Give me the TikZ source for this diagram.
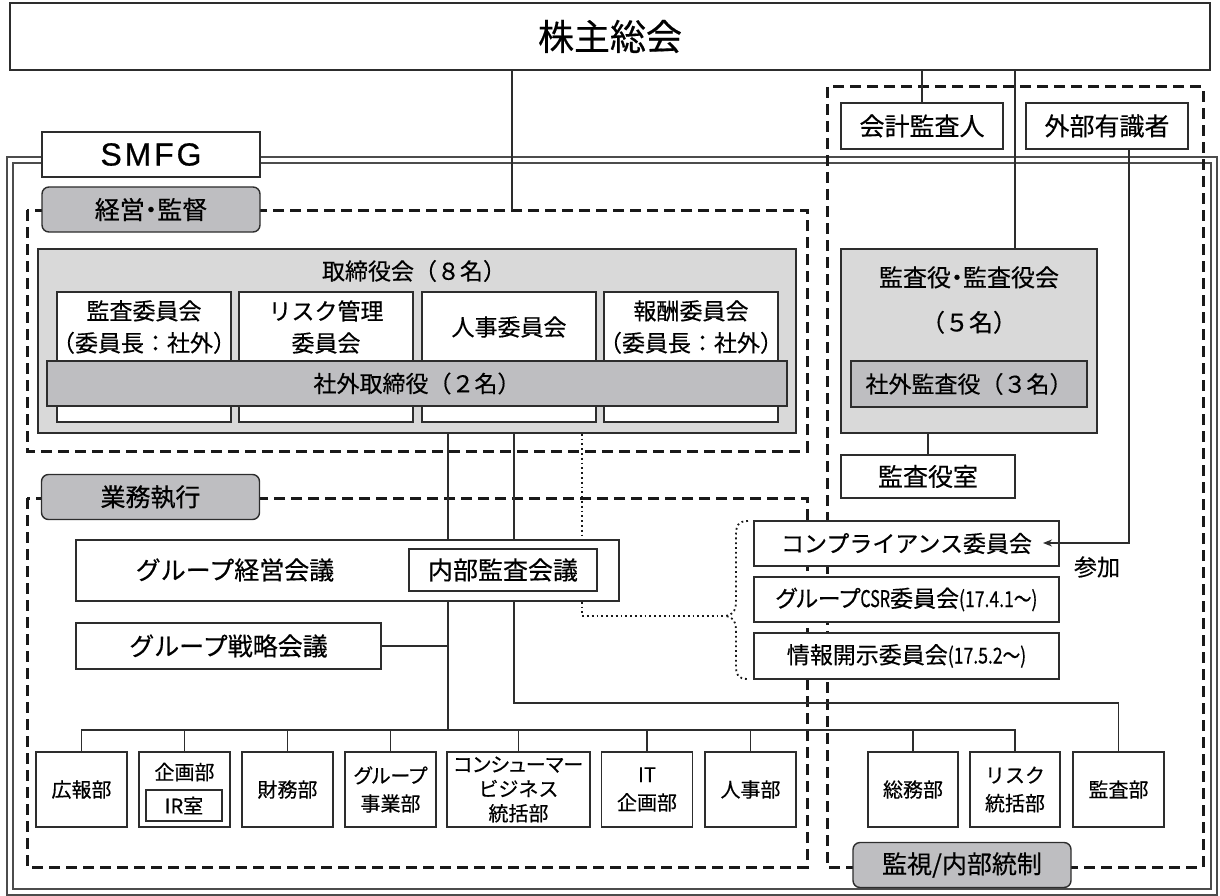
\documentclass[tikz,border=0pt]{standalone}
\usepackage{fontspec}
\setmainfont{Noto Sans CJK JP}[FakeBold=0.4]
\newfontfamily\propf{Noto Sans CJK JP}[RawFeature=+palt, FakeBold=0.4]
\newfontfamily\latinsf{Liberation Sans}[LetterSpace=9, FakeBold=0.6]
\usetikzlibrary{arrows.meta}
\newcommand\fsXL{\fontsize{36}{40}\selectfont}
\newcommand\fsL{\fontsize{25}{30}\selectfont}
\newcommand\fsM{\fontsize{23}{32}\selectfont}
\newcommand\fsS{\fontsize{20}{28}\selectfont}
\newcommand\fsT{\fontsize{20}{24.5}\selectfont}
\newcommand\cond[1]{\scalebox{0.7}[1]{#1}}
\newcommand\since[1]{\scalebox{0.8}[1]{\fontsize{22}{24}\selectfont #1}}
\definecolor{boardgray}{RGB}{217,217,217}
\definecolor{bargray}{RGB}{190,190,193}
\definecolor{linegray}{RGB}{45,45,45}
\tikzset{
  box/.style={draw=linegray, line width=1.4pt, fill=white, inner sep=0pt, align=center},
  graybox/.style={box, fill=boardgray},
  barbox/.style={box, fill=bargray},
  tagbox/.style={box, fill=bargray, rounded corners=7pt, minimum width=218pt, minimum height=45pt, font=\fsL},
  zone/.style={draw=black!90, line width=3pt, dash pattern=on 11pt off 6pt},
  link/.style={draw=linegray, line width=1.3pt},
  dots/.style={draw=black!90, line width=1.8pt, dash pattern=on 1.8pt off 3pt},
  dept/.style={box, minimum width=91pt, minimum height=75pt, font=\fsS},
}
\begin{document}
\begin{tikzpicture}[x=1pt,y=-1pt]
\useasboundingbox (0,0) rectangle (1220,896);
\draw[black!70, line width=1.4pt] (7,157) rectangle (1217,895);
\draw[black!70, line width=1.4pt] (13,163) rectangle (1211,889);
\draw[zone] (27,210) rectangle (807,451);
\draw[zone] (27,498) rectangle (807,867);
\draw[zone] (827,87) rectangle (1203,867);

\coordinate (kTop) at (512,210);
\coordinate (kyx) at (1015,0);
\coordinate (busA) at (448,730);
\coordinate (busB) at (514,703);
\coordinate (dx) at (582,0);
\coordinate (cusp) at (725,616);
\coordinate (gx) at (1129,0);
\coordinate (tip) at (1043,543);

\node[box, minimum width=1200pt, minimum height=67pt, font=\fsXL] (kabu) at (610,36.5) {株主総会};
\node[graybox, minimum width=758pt, minimum height=184pt] (brd) at (417,341) {};
\node[graybox, minimum width=256pt, minimum height=184pt] (kansayaku) at (969,341) {};
\node[box, minimum width=162pt, minimum height=46pt, font=\fsL] (kaikei) at (922,126) {会計監査人};
\node[box, minimum width=162pt, minimum height=46pt, font=\fsL] (gaibu) at (1107,126) {外部有識者};

% connectors
\draw[link] (kabu.south -| kTop) -- (kTop);
\draw[link] (kabu.south -| kaikei.north) -- (kaikei.north);
\draw[link] (kabu.south -| kyx) -- (kansayaku.north -| kyx);
\draw[link] (brd.south -| busA) -- (busA);
\draw[dots] (brd.south -| dx) |- (cusp);
\draw[dots] (748,521) .. controls (738,521) and (736,526) .. (736,535) -- (736,602)
  .. controls (736,612) and (731,616) .. (cusp) .. controls (731,616) and (736,620) .. (736,630)
  -- (736,666) .. controls (736,675) and (738,679) .. (748,679);

\node[box, minimum width=218pt, minimum height=45pt, font=\latinsf\fontsize{32}{34}\selectfont] (smfg) at (151,154.5) {SMFG};
\node[tagbox, font=\fsL\propf] (keiei) at (151,209.5) {経営・監督};
\node[tagbox] (gyomu) at (150.5,497) {業務執行};
\node[tagbox] (kanshi) at (962,865) {監視/内部統制};

\node[font=\fsM] (brdt) at (414,271) {取締役会（８名）};
\foreach \cx/\nm/\txt in {144/kansa/{監査委員会\\（委員長：社外）}, 326/risk/{リスク管理\\委員会},
    509/jinji/{人事委員会}, 691/hoshu/{報酬委員会\\（委員長：社外）}}{
  \node[box, minimum width=174pt, minimum height=130pt] (\nm) at (\cx,357) {};
  \node[font=\fsM, align=center] (\nm-t) at (\cx,327) {\txt};
}
\node[barbox, minimum width=740pt, minimum height=45pt, font=\fsM] (shagai) at (417,383.5) {社外取締役（２名）};

\node[font={\fontsize{24}{45}\selectfont}, align=center] (kansayakut) at (969,300) {{\propf 監査役・監査役会}\\（５名）};
\node[barbox, minimum width=236pt, minimum height=46pt, font=\fsM] (shagaik) at (969,384) {社外監査役（３名）};
\node[box, minimum width=174pt, minimum height=43pt, font=\fsL] (shitsu) at (928,476.5) {監査役室};
\draw[link] (kansayaku.south -| shitsu.north) -- (shitsu.north);

\draw[link] (brd.south -| busB) -- (busB) -| (1118.5,752);

\node[box, minimum width=543pt, minimum height=61pt] (gmc) at (347.5,570.5) {};
\node[font=\fsL] (gmct) at (235,570) {グループ経営会議};
\node[box, minimum width=188pt, minimum height=42pt, font=\fsL] (naibu) at (503,570) {内部監査会議};
\node[box, minimum width=305pt, minimum height=46pt, font=\fsL] (senryaku) at (228.5,646) {グループ戦略会議};
\draw[link] (senryaku.east) -- (senryaku.east -| busA);

\node[box, minimum width=305pt, minimum height=45pt, font=\fsM] (comp) at (906.5,543.5) {コンプライアンス委員会};
\node[box, minimum width=305pt, minimum height=45pt, font=\fsM] (csr) at (906.5,599.5) {{\propf グループ}\cond{CSR}委員会\since{(17.4.1～)}};
\node[box, minimum width=305pt, minimum height=46pt, font=\fsM] (joho) at (906.5,656) {情報開示委員会\since{(17.5.2～)}};
\draw[link, -{Stealth[length=9pt,width=7pt]}] (gaibu.south -| gx) |- (tip);
\node[font=\fsM] (sanka) at (1097,567) {参加};

\node[dept] (koho) at (81.5,789.5) {広報部};
\node[dept] (kikaku) at (184.5,789.5) {};
\node[font=\fsS] (kikakut) at (184.5,772) {企画部};
\node[box, minimum width=76pt, minimum height=31pt, font=\fsS] (ir) at (184,805.5) {IR室};
\node[dept] (zaimu) at (287.5,789.5) {財務部};
\node[dept] (jigyo) at (390.5,789.5) {{\propf グループ}\\事業部};
\node[dept, minimum width=143pt, font=\fsT] (consumer) at (518.5,789.5) {\propf コンシューマー\\ビジネス\\統括部};
\node[dept] (itk) at (647,789.5) {IT\\企画部};
\node[dept] (jinjib) at (750.5,789.5) {人事部};
\node[dept, minimum width=90pt] (somu) at (913,789.5) {総務部};
\node[dept, minimum width=90pt] (riskd) at (1015,789.5) {リスク\\統括部};
\node[dept] (kansab) at (1118.5,789.5) {監査部};
\draw[link] (koho.north) |- (riskd.north |- busA) -- (riskd.north);
\foreach \d in {kikaku,zaimu,jigyo,consumer,itk,jinjib,somu}
  \draw[link] (\d.north) -- (\d.north |- busA);
\end{tikzpicture}
\end{document}
